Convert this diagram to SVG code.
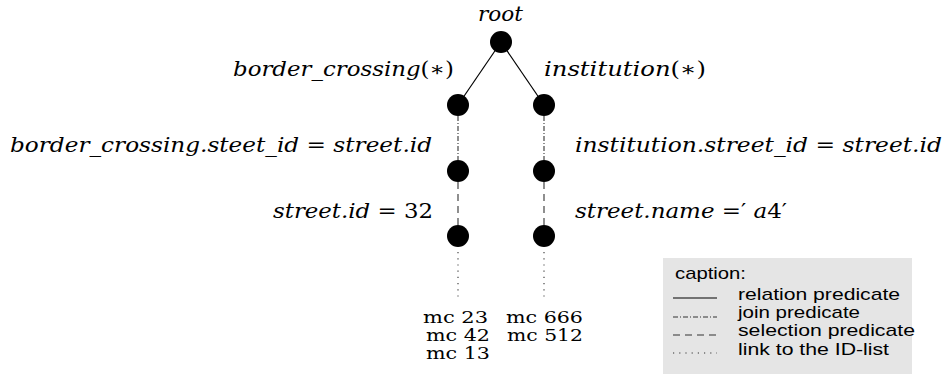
<svg xmlns="http://www.w3.org/2000/svg" width="945" height="376" viewBox="0 0 945 376">
<style>
.m{font-family:'DejaVu Serif',serif;font-style:italic;font-size:20px;fill:#000}
.u{font-style:normal}
.mc{font-family:'DejaVu Serif',serif;font-size:16px;fill:#000}
.lg{font-family:"Liberation Sans",Arial,sans-serif;font-size:17px;fill:#000}
.n{fill:#000}
.rel{stroke:#000;stroke-width:1.2;fill:none}
.join{stroke:#333;stroke-width:1.1;stroke-dasharray:5 2 1 2;fill:none}
.sel{stroke:#333;stroke-width:1.1;stroke-dasharray:7 5;fill:none}
.link{stroke:#333;stroke-width:1.1;stroke-dasharray:1.2 5;fill:none}
</style>
<g id="connectors">
<line class="rel" x1="501" y1="42" x2="458" y2="105"/>
<line class="rel" x1="501" y1="42" x2="544" y2="105"/>
<line class="join" x1="458" y1="116" x2="458" y2="160"/>
<line class="join" x1="544" y1="116" x2="544" y2="160"/>
<line class="sel" x1="458" y1="182" x2="458" y2="225"/>
<line class="sel" x1="544" y1="182" x2="544" y2="225"/>
<line class="link" x1="458" y1="252" x2="458" y2="301"/>
<line class="link" x1="544" y1="252" x2="544" y2="301"/>
</g>
<g id="root"><circle class="n" cx="501" cy="42" r="11"/><text class="m" x="478" y="21" textLength="45" lengthAdjust="spacingAndGlyphs">root</text></g>
<g id="n_border"><circle class="n" cx="458" cy="105" r="11"/><text class="m" x="233" y="76" textLength="221" lengthAdjust="spacingAndGlyphs">border_crossing<tspan class="u">(∗)</tspan></text></g>
<g id="n_inst"><circle class="n" cx="544" cy="105" r="11"/><text class="m" x="544" y="76" textLength="162" lengthAdjust="spacingAndGlyphs">institution<tspan class="u">(∗)</tspan></text></g>
<g id="n_border_join"><circle class="n" cx="458" cy="171" r="11"/><text class="m" x="10" y="152" textLength="422" lengthAdjust="spacingAndGlyphs">border_crossing.steet_id <tspan class="u">=</tspan> street.id</text></g>
<g id="n_inst_join"><circle class="n" cx="544" cy="171" r="11"/><text class="m" x="575" y="152" textLength="367" lengthAdjust="spacingAndGlyphs">institution.street_id <tspan class="u">=</tspan> street.id</text></g>
<g id="n_border_sel"><circle class="n" cx="458" cy="236" r="11"/><text class="m" x="273" y="218" textLength="160" lengthAdjust="spacingAndGlyphs">street.id <tspan class="u">= 32</tspan></text></g>
<g id="n_inst_sel"><circle class="n" cx="544" cy="236" r="11"/><text class="m" x="575" y="218" textLength="212" lengthAdjust="spacingAndGlyphs">street.name <tspan class="u">=′</tspan> a<tspan class="u">4′</tspan></text></g>
<g id="idlist_left">
<text class="mc" x="423" y="323" textLength="65" lengthAdjust="spacingAndGlyphs">mc 23</text>
<text class="mc" x="426" y="341" textLength="64" lengthAdjust="spacingAndGlyphs">mc 42</text>
<text class="mc" x="426" y="359" textLength="64" lengthAdjust="spacingAndGlyphs">mc 13</text>
</g>
<g id="idlist_right">
<text class="mc" x="506" y="323" textLength="77" lengthAdjust="spacingAndGlyphs">mc 666</text>
<text class="mc" x="507" y="341" textLength="76" lengthAdjust="spacingAndGlyphs">mc 512</text>
</g>
<g id="legend">
<rect x="663" y="258" width="249" height="116" fill="#e5e5e5"/>
<text class="lg" x="675" y="279" textLength="71" lengthAdjust="spacingAndGlyphs">caption:</text>
<line class="rel" x1="673" y1="298" x2="717" y2="298"/>
<text class="lg" x="738" y="300" textLength="162" lengthAdjust="spacingAndGlyphs">relation predicate</text>
<line class="join" x1="673" y1="317" x2="717" y2="317"/>
<text class="lg" x="738" y="318" textLength="122" lengthAdjust="spacingAndGlyphs">join predicate</text>
<line class="sel" x1="673" y1="335" x2="717" y2="335"/>
<text class="lg" x="738" y="336" textLength="177" lengthAdjust="spacingAndGlyphs">selection predicate</text>
<line class="link" x1="673" y1="353" x2="717" y2="353"/>
<text class="lg" x="738" y="355" textLength="151" lengthAdjust="spacingAndGlyphs">link to the ID-list</text>
</g>
</svg>
